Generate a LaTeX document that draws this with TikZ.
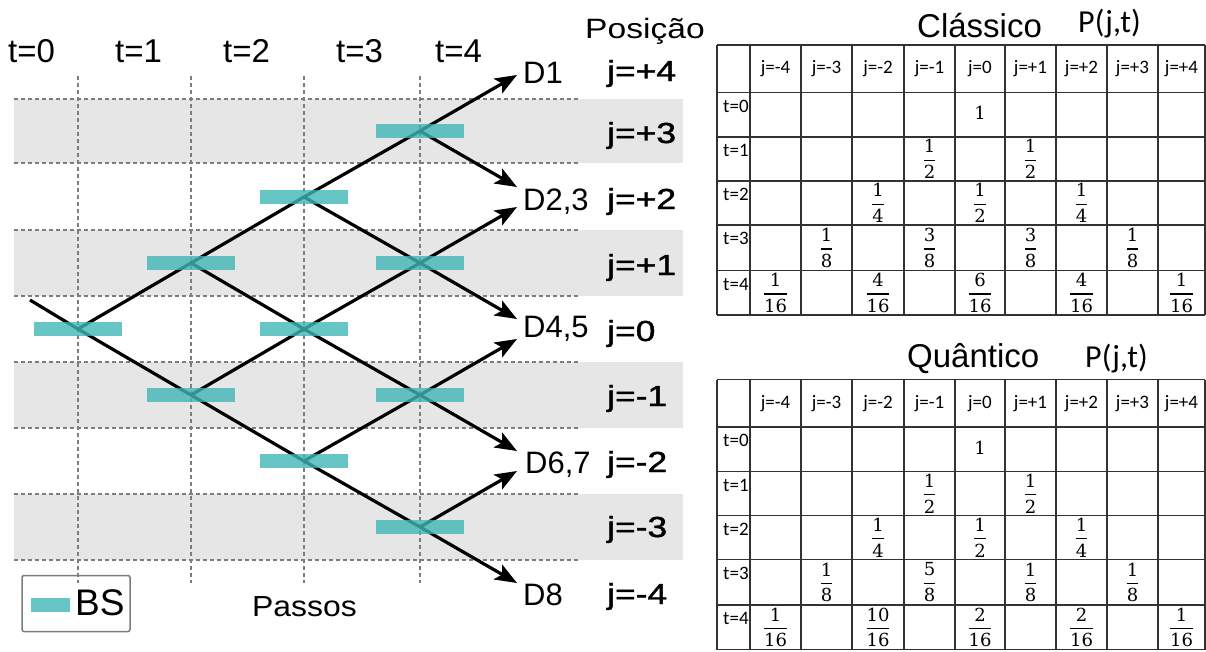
\documentclass[tikz,border=0pt]{standalone}
\usepackage{fontspec}
\usepackage{amsmath}
\usepackage{graphicx}
\setmainfont{Liberation Sans}
\newfontfamily\calfont{Carlito}
\newfontfamily\frfont{DejaVu Serif}
\newfontfamily\jfont[FakeBold=1.3]{Liberation Sans}
\usetikzlibrary{arrows.meta}
\definecolor{bsteal}{RGB}{64,182,182}
\definecolor{bandgray}{RGB}{230,230,230}
\definecolor{gridgray}{RGB}{125,125,125}
\definecolor{tabline}{RGB}{50,50,50}
\pgfdeclarelayer{back}\pgfdeclarelayer{mid}\pgfsetlayers{back,mid,main}
\newcommand\bigfr[2]{$\genfrac{}{}{1.4pt}{0}{\text{#1}}{\text{#2}}$}
\begin{document}
\begin{tikzpicture}[x=1pt,y=-1pt,
  bs/.style={fill=bsteal,fill opacity=0.8,draw=none,minimum width=88pt,minimum height=14pt,inner sep=0pt},
  beam/.style={line width=3.2pt,line join=round,-{Stealth[length=22pt,width=17pt,inset=5pt]}},
  gridln/.style={gridgray,line width=1.3pt,dash pattern=on 4pt off 3pt},
  tlab/.style={anchor=base west,inner sep=0pt,font=\fontsize{33}{36}\selectfont},
  dlab/.style={anchor=base west,inner sep=0pt,font=\fontsize{31}{34}\selectfont},
  jlab/.style={anchor=base west,inner sep=0pt,font=\jfont\fontsize{29}{31}\selectfont},
  title/.style={anchor=base west,inner sep=0pt,font=\fontsize{33}{36}\selectfont},
  ptitle/.style={anchor=base west,inner sep=0pt,font=\calfont\fontsize{32}{34}\selectfont},
  head/.style={inner sep=0pt,font=\calfont\fontsize{19}{21}\selectfont},
  rowlab/.style={anchor=base west,inner sep=0pt,font=\calfont\fontsize{19}{21}\selectfont},
  fr/.style={inner sep=0pt,font=\frfont\fontsize{18}{20}\selectfont},
  tab/.style={tabline,line width=1.5pt}
]
\useasboundingbox (0,0) rectangle (1206,651);

% ---------- left diagram: bands and grid ----------
\begin{pgfonlayer}{back}
\foreach \ya/\yb in {99/163,230/296,362/428,494/560}
  \fill[bandgray] (14,\ya) rectangle (683,\yb);
\foreach \yy in {99,163,230,296,362,428,494,560}
  \draw[gridln] (14,\yy) -- (580,\yy);
\foreach \xx in {78,191,304,420}
  \draw[gridln] (\xx,76) -- (\xx,583);
\end{pgfonlayer}

% ---------- beam splitters ----------
\node[bs] (b1) at (78,329) {};
\node[bs] (b2) at (191,263) {};
\node[bs] (b3) at (191,395) {};
\node[bs] (b4) at (304,197) {};
\node[bs] (b5) at (304,329) {};
\node[bs] (b6) at (304,461) {};
\node[bs] (b7) at (420,131) {};
\node[bs] (b8) at (420,263) {};
\node[bs] (b9) at (420,395) {};
\node[bs] (b10) at (420,527) {};

\coordinate (s) at (30,300);
\coordinate (e1) at (517,75);
\coordinate (e2) at (517,187);
\coordinate (e3) at (517,207);
\coordinate (e4) at (517,319);
\coordinate (e5) at (517,339);
\coordinate (e6) at (517,451);
\coordinate (e7) at (517,471);
\coordinate (e8) at (517,583);

\begin{pgfonlayer}{mid}
\draw[beam] (s) -- (b1.center) -- (b3.center) -- (b6.center) -- (b10.center) -- (e8);
\draw[beam] (b1.center) -- (b2.center) -- (b4.center) -- (b7.center) -- (e1);
\draw[beam] (b2.center) -- (b5.center) -- (b9.center) -- (e6);
\draw[beam] (b3.center) -- (b5.center) -- (b8.center) -- (e3);
\draw[beam] (b4.center) -- (b8.center) -- (e4);
\draw[beam] (b6.center) -- (b9.center) -- (e5);
\draw[beam] (b7.center) -- (e2);
\draw[beam] (b10.center) -- (e7);
\end{pgfonlayer}

% ---------- labels ----------
\node[tlab] (t0) at (8,62) {t=0};
\node[tlab] (t1) at (115,62) {t=1};
\node[tlab] (t2) at (223,62) {t=2};
\node[tlab] (t3) at (336,62) {t=3};
\node[tlab] (t4) at (435,62) {t=4};

\node[anchor=base west,inner sep=0pt,font=\fontsize{28}{30}\selectfont] (pos) at (585,38) {\scalebox{1.2}[1]{Posição}};

\node[dlab] (d1) at (523,83) {D1};
\node[dlab] (d23) at (523,210) {D2,3};
\node[dlab] (d45) at (523,337) {D4,5};
\node[dlab] (d67) at (525,473) {D6,7};
\node[dlab] (d8) at (523,605) {D8};

\node[jlab] (jp4) at (607,81) {\scalebox{1.22}[1]{j=+4}};
\node[jlab] (jp3) at (607,143) {\scalebox{1.22}[1]{j=+3}};
\node[jlab] (jp2) at (607,209) {\scalebox{1.22}[1]{j=+2}};
\node[jlab] (jp1) at (607,275) {\scalebox{1.22}[1]{j=+1}};
\node[jlab] (j0) at (607,341) {\scalebox{1.22}[1]{j=0}};
\node[jlab] (jm1) at (607,406) {\scalebox{1.22}[1]{j=-1}};
\node[jlab] (jm2) at (607,472) {\scalebox{1.22}[1]{j=-2}};
\node[jlab] (jm3) at (607,537) {\scalebox{1.22}[1]{j=-3}};
\node[jlab] (jm4) at (607,604) {\scalebox{1.22}[1]{j=-4}};

\node[anchor=base west,inner sep=0pt,font=\fontsize{29}{32}\selectfont] (passos) at (252,616) {\scalebox{1.1}[1]{Passos}};

% legend
\node[draw=gridgray,line width=1.5pt,rounded corners=2pt,minimum width=108pt,minimum height=56pt,inner sep=0pt] (legend) at (76,603.5) {};
\node[bs,minimum width=39pt] (legbar) at (50.5,605) {};
\node[anchor=base west,inner sep=0pt,font=\fontsize{37}{40}\selectfont] (bstext) at (75,615) {BS};

% ---------- tables ----------
\foreach \top/\nm/\ttl/\ttlx/\ttly/\px/\py in {45/c/Clássico/917/37/1078/32, 379.5/q/Quântico/907/367/1085/367}{
  \node[title] (\nm title) at (\ttlx,\ttly) {\ttl};
  \node[ptitle] (\nm p) at (\px,\py) {P(j,t)};
  \foreach \xx in {717,750,801,852,904,955,1005,1056,1107,1158,1205}
    \draw[tab] (\xx,\top) -- (\xx,\top+270);
  \foreach \dy in {0,47.5,92,136,180,225.5,270}
    \draw[tab] (717,\top+\dy) -- (1205,\top+\dy);
  \foreach \xx/\lab [count=\k] in {775.5/j=-4,826.5/j=-3,878/j=-2,929.5/j=-1,980/j=0,1030.5/j=+1,1081.5/j=+2,1132.5/j=+3,1181.5/j=+4}
    \node[head] (\nm h\k) at (\xx,\top+23.75) {\lab};
  \foreach \dy/\lab [count=\k] in {47.5/t=0,92/t=1,136/t=2,180/t=3,225.5/t=4}
    \node[rowlab] (\nm r\k) at (723,\top+\dy+19.5) {\lab};
  \node[fr] (\nm one) at (980,\top+68) {1};
}

% classical values
\foreach \xx/\yy/\n/\d [count=\k] in {
  929.5/159/1/2, 1030.5/159/1/2,
  878/203/1/4, 980/203/1/2, 1081.5/203/1/4,
  826.5/248/1/8, 929.5/248/3/8, 1030.5/248/3/8, 1132.5/248/1/8,
  775.5/293/1/16, 878/293/4/16, 980/293/6/16, 1081.5/293/4/16, 1181.5/293/1/16}
  \node[fr] (cv\k) at (\xx,\yy) {\bigfr{\n}{\d}};

% quantum values
\foreach \xx/\yy/\n/\d [count=\k] in {
  929.5/493.5/1/2, 1030.5/493.5/1/2,
  878/537.5/1/4, 980/537.5/1/2, 1081.5/537.5/1/4,
  826.5/582.25/1/8, 929.5/582.25/5/8, 1030.5/582.25/1/8, 1132.5/582.25/1/8,
  775.5/627.25/1/16, 878/627.25/10/16, 980/627.25/2/16, 1081.5/627.25/2/16, 1181.5/627.25/1/16}
  \node[fr] (qv\k) at (\xx,\yy) {\bigfr{\n}{\d}};

\end{tikzpicture}
\end{document}
